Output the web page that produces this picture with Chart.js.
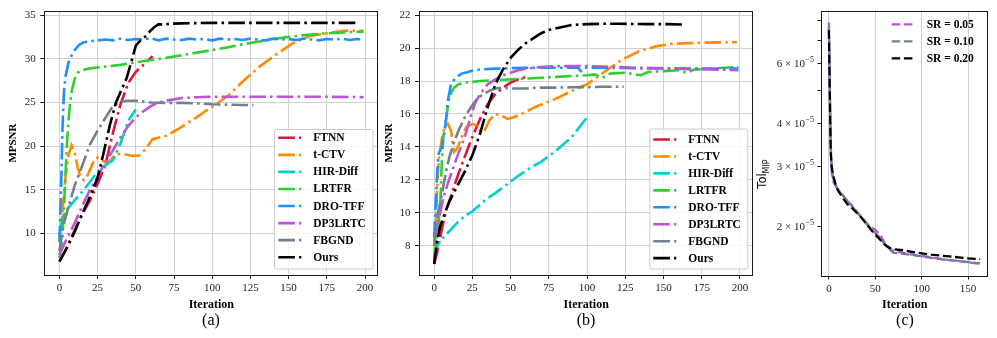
<!DOCTYPE html>
<html>
<head>
<meta charset="utf-8">
<script src="https://cdn.jsdelivr.net/npm/chart.js@4.4.0/dist/chart.umd.min.js"></script>
<style>
  html, body { margin: 0; padding: 0; background: #fff; }
  #wrap { position: relative; width: 997px; height: 338px; overflow: hidden; }
  canvas { position: absolute; top: 0; }
  .cap { position: absolute; top: 311px; line-height: 18px; font-family: "Liberation Serif", serif;
         font-size: 16px; color: #000; transform: translateX(-50%); }
</style>
</head>
<body>
<div id="wrap">
  <canvas id="ca" width="382" height="338" style="left:0"></canvas>
  <canvas id="cb" width="376" height="338" style="left:380px"></canvas>
  <canvas id="cc" width="241" height="338" style="left:756px"></canvas>
  <div class="cap" style="left:211px">(a)</div>
  <div class="cap" style="left:586px">(b)</div>
  <div class="cap" style="left:905px">(c)</div>
</div>
<script>
// values (iteration / MPSNR or Tol)
const METHODS = ["FTNN", "t-CTV", "HIR-Diff", "LRTFR", "DRO-TFF", "DP3LRTC", "FBGND", "Ours"];
const COLORS = ["#dc143c", "#ff8c00", "#00ced1", "#32cd32", "#1e90ff", "#ba55d3", "#708090", "#000000"];

// ---- panel (a)
const A_FTNN_IT = [0, 5, 10, 15, 20, 25, 30, 35, 40, 45, 50, 55, 61];
const A_FTNN = [6.8, 8.5, 10.4, 12.2, 13.8, 15.7, 17.8, 21.5, 24.8, 27.2, 28.5, 29.3, 30.3];
const A_TCTV_IT = [0, 2, 4, 6, 8, 10, 12, 14, 16, 18, 20, 23, 25, 28, 31, 34, 37, 42, 47, 52, 56, 61, 70, 79, 88, 99, 110, 120, 131, 142, 153, 164, 175, 186, 199];
const A_TCTV = [9.3, 12.5, 16.5, 19.0, 20.1, 19.3, 17.5, 16.4, 16.1, 16.5, 17.3, 18.5, 18.7, 18.4, 18.0, 18.5, 19.1, 19.1, 18.9, 18.9, 19.6, 20.8, 21.2, 22.1, 23.1, 24.4, 25.7, 27.4, 29.1, 30.5, 31.8, 32.6, 32.9, 33.2, 33.2];
const A_HIR_IT = [0, 2, 5, 10, 15, 20, 25, 30, 35, 40, 45, 50];
const A_HIR = [9.8, 11.8, 12.8, 13.8, 14.8, 15.9, 17.1, 17.8, 18.4, 20.3, 22.9, 24.2];
const A_LRTFR_IT = [0, 2, 3, 4, 5, 6, 7, 8, 10, 12, 15, 20, 30, 40, 50, 60, 70, 80, 90, 100, 110, 120, 130, 140, 150, 160, 170, 180, 190, 199];
const A_LRTFR = [7.2, 9.5, 13, 17, 20.5, 23, 25, 26.3, 27.7, 28.4, 28.7, 28.9, 29.1, 29.3, 29.6, 29.85, 30.1, 30.4, 30.7, 31.0, 31.3, 31.65, 31.95, 32.25, 32.5, 32.7, 32.85, 32.95, 33.05, 33.1];
const A_DRO_IT = [0, 1, 2, 3, 4, 6, 8, 10, 13, 16, 20, 25, 30, 35, 40, 45, 50, 55, 60, 65, 70, 75, 80, 85, 90, 95, 100, 105, 110, 115, 120, 125, 130, 135, 140, 145, 150, 155, 160, 165, 170, 175, 180, 185, 190, 195, 199];
const A_DRO = [9.0, 14.5, 22.0, 26.3, 28.0, 29.6, 30.4, 31.0, 31.6, 31.9, 32.0, 32.1, 32.2, 32.1, 32.3, 32.15, 32.25, 32.2, 32.35, 32.1, 32.3, 32.2, 32.15, 32.3, 32.2, 32.25, 32.1, 32.3, 32.2, 32.25, 32.15, 32.3, 32.2, 32.1, 32.3, 32.2, 32.25, 32.15, 32.3, 32.2, 32.1, 32.25, 32.2, 32.3, 32.15, 32.25, 32.2];
const A_DP3_IT = [0, 5, 10, 15, 20, 25, 30, 35, 40, 45, 50, 55, 60, 65, 70, 80, 90, 100, 125, 150, 175, 199];
const A_DP3 = [7.6, 9.5, 11.2, 13.2, 15.0, 16.5, 18.2, 19.5, 21.0, 22.3, 23.3, 24.0, 24.6, 25.0, 25.2, 25.5, 25.6, 25.65, 25.65, 25.65, 25.65, 25.6];
const A_FBG_IT = [0, 2, 5, 10, 15, 20, 25, 30, 35, 40, 45, 50, 60, 70, 80, 90, 100, 110, 120, 127];
const A_FBG = [8.0, 10.5, 12.5, 15.5, 17.8, 20.2, 21.8, 23.2, 24.6, 25.1, 25.2, 25.2, 25.0, 24.95, 24.95, 24.9, 24.8, 24.75, 24.7, 24.7];
const A_OURS_IT = [0, 5, 10, 15, 20, 25, 29, 33, 37, 41, 44, 47, 50, 53, 56, 59, 62, 65, 68, 72, 80, 100, 130, 160, 195];
const A_OURS = [6.8, 8.4, 10.2, 12.3, 14.2, 16.4, 19.3, 22.4, 25.0, 26.6, 27.8, 29.6, 31.5, 32.1, 32.5, 33.1, 33.6, 33.95, 33.9, 34.0, 34.05, 34.1, 34.1, 34.1, 34.1];

// ---- panel (b)
const B_FTNN_IT = [0, 2, 5, 8, 12, 16, 20, 25, 30, 35, 40, 45, 50, 55, 62];
const B_FTNN = [6.9, 7.6, 9.0, 10.2, 11.3, 12.4, 13.4, 14.6, 15.7, 16.6, 17.2, 17.6, 17.9, 18.1, 18.3];
const B_TCTV_IT = [0, 1, 2, 3, 5, 7, 9, 11, 13, 15, 18, 21, 25, 28, 31, 33, 36, 40, 44, 48, 52, 57, 68, 79, 90, 100, 106, 112, 123, 134, 145, 155, 167, 178, 190, 198];
const B_TCTV = [7.0, 9.0, 11.5, 13.2, 14.5, 15.3, 15.4, 15.0, 13.7, 13.9, 14.6, 15.2, 15.4, 15.3, 14.9, 15.0, 15.6, 16.0, 15.9, 15.7, 15.8, 16.0, 16.5, 16.9, 17.4, 17.8, 18.2, 18.6, 19.3, 19.8, 20.1, 20.25, 20.3, 20.33, 20.35, 20.35];
const B_HIR_IT = [0, 3, 5, 10, 15, 20, 25, 30, 35, 40, 45, 50, 55, 60, 65, 70, 75, 80, 85, 90, 95, 100];
const B_HIR = [7.3, 8.2, 8.4, 8.9, 9.4, 9.8, 10.1, 10.5, 10.9, 11.2, 11.55, 11.9, 12.25, 12.55, 12.85, 13.1, 13.45, 13.8, 14.2, 14.6, 15.2, 15.8];
const B_LRTFR_IT = [0, 2, 4, 5, 6, 8, 10, 13, 16, 20, 30, 40, 50, 60, 70, 80, 90, 100, 105, 110, 115, 125, 135, 140, 150, 160, 165, 170, 180, 190, 199];
const B_LRTFR = [7.2, 8.5, 10.5, 13.0, 14.6, 15.8, 17.1, 17.6, 17.8, 17.9, 18.0, 18.05, 18.1, 18.15, 18.2, 18.25, 18.3, 18.35, 18.4, 18.2, 18.45, 18.5, 18.35, 18.55, 18.6, 18.65, 18.5, 18.7, 18.75, 18.8, 18.85];
const B_DRO_IT = [0, 1, 2, 3, 5, 7, 9, 11, 14, 18, 22, 26, 30, 40, 50, 60, 70, 80, 90, 94, 96, 98, 110, 130, 150, 170, 190, 199];
const B_DRO = [8.5, 10.5, 12.5, 13.6, 14.0, 15.0, 16.8, 17.8, 18.2, 18.45, 18.55, 18.65, 18.7, 18.75, 18.78, 18.8, 18.8, 18.8, 18.8, 18.8, 18.6, 18.8, 18.8, 18.78, 18.78, 18.76, 18.75, 18.75];
const B_DP3_IT = [0, 3, 6, 9, 12, 15, 18, 21, 24, 27, 30, 35, 40, 45, 50, 55, 60, 70, 80, 90, 100, 110, 120, 130, 140, 150, 160, 170, 180, 190, 199];
const B_DP3 = [8.2, 9.6, 10.9, 11.8, 12.6, 13.4, 14.1, 14.9, 15.9, 16.7, 17.2, 17.8, 18.1, 18.35, 18.5, 18.65, 18.75, 18.85, 18.9, 18.9, 18.9, 18.88, 18.85, 18.8, 18.78, 18.75, 18.73, 18.72, 18.7, 18.68, 18.65];
const B_FBG_IT = [0, 2, 4, 6, 8, 10, 13, 16, 20, 24, 28, 32, 36, 40, 45, 50, 60, 70, 80, 90, 100, 110, 124];
const B_FBG = [8.0, 9.8, 10.6, 11.6, 12.6, 13.4, 14.3, 15.0, 15.8, 16.4, 16.9, 17.2, 17.4, 17.55, 17.6, 17.55, 17.55, 17.6, 17.6, 17.62, 17.63, 17.65, 17.65];
const B_OURS_IT = [0, 2, 4, 7, 10, 15, 20, 25, 30, 35, 40, 45, 50, 55, 60, 65, 70, 75, 80, 90, 100, 110, 120, 130, 140, 150, 162];
const B_OURS = [6.9, 8.3, 9.2, 10.0, 10.7, 11.6, 12.5, 13.5, 14.8, 16.4, 17.8, 18.7, 19.4, 19.9, 20.3, 20.6, 20.9, 21.1, 21.2, 21.4, 21.45, 21.47, 21.47, 21.46, 21.45, 21.45, 21.43];

// ---- panel (c)
const SR_LABELS = ["SR = 0.05", "SR = 0.10", "SR = 0.20"];
const SR_COLORS = ["#ba55d3", "#708090", "#000000"];
const C_IT = [0, 1, 2, 3, 5, 8, 10, 15, 20, 25, 30, 35, 40, 45, 50, 55, 60, 65, 70, 80, 90, 100, 110, 120, 130, 140, 150, 163];
const C_SR05 = [7.9e-5, 5.2e-5, 3.5e-5, 2.9e-5, 2.7e-5, 2.62e-5, 2.56e-5, 2.47e-5, 2.38e-5, 2.31e-5, 2.22e-5, 2.14e-5, 2.06e-5, 2.0e-5, 1.96e-5, 1.9e-5, 1.8e-5, 1.73e-5, 1.7e-5, 1.68e-5, 1.66e-5, 1.645e-5, 1.63e-5, 1.615e-5, 1.6e-5, 1.59e-5, 1.575e-5, 1.56e-5];
const C_SR10 = [7.7e-5, 5.0e-5, 3.4e-5, 2.95e-5, 2.75e-5, 2.62e-5, 2.57e-5, 2.48e-5, 2.38e-5, 2.30e-5, 2.21e-5, 2.13e-5, 2.05e-5, 1.98e-5, 1.92e-5, 1.86e-5, 1.78e-5, 1.72e-5, 1.68e-5, 1.67e-5, 1.655e-5, 1.64e-5, 1.625e-5, 1.61e-5, 1.6e-5, 1.59e-5, 1.58e-5, 1.565e-5];
const C_SR20 = [7.5e-5, 4.8e-5, 3.3e-5, 3.0e-5, 2.8e-5, 2.62e-5, 2.55e-5, 2.43e-5, 2.33e-5, 2.27e-5, 2.2e-5, 2.13e-5, 2.05e-5, 1.97e-5, 1.9e-5, 1.84e-5, 1.78e-5, 1.74e-5, 1.72e-5, 1.71e-5, 1.69e-5, 1.675e-5, 1.66e-5, 1.65e-5, 1.64e-5, 1.63e-5, 1.62e-5, 1.61e-5];

// ticks
const X_TICKS_AB = [0, 25, 50, 75, 100, 125, 150, 175, 200];
const Y_TICKS_A = [10, 15, 20, 25, 30, 35];
const Y_TICKS_B = [8, 10, 12, 14, 16, 18, 20, 22];
const X_TICKS_C = [0, 50, 100, 150];
const Y_TICKS_C = [2e-5, 3e-5, 4e-5, 5e-5, 6e-5, 7e-5, 8e-5];
const Y_LABELED_C = [2, 3, 4, 6];

const SERIF = '"Liberation Serif", "Times New Roman", serif';
const INK = "#1a1a1a";
const DASHDOT = [16.6, 4.2, 2.6, 4.2];
const DASHED = [8.5, 3.7];

const pts = (xs, ys) => xs.map((x, i) => ({ x, y: ys[i] }));

function lineSet(label, color, xs, ys, dash, width, order) {
  return { label, data: pts(xs, ys), borderColor: color, borderWidth: width, borderDash: dash,
           pointRadius: 0, tension: 0, fill: false, order };
}

// box around the plot area, like matplotlib spines
const frame = {
  id: "frame",
  afterDraw(chart) {
    const { ctx, chartArea: a } = chart;
    ctx.save();
    ctx.strokeStyle = INK;
    ctx.lineWidth = 1;
    ctx.strokeRect(Math.round(a.left) + 0.5, Math.round(a.top) + 0.5,
                   Math.round(a.right - a.left) - 1, Math.round(a.bottom - a.top));
    ctx.restore();
  },
};

// legend drawn inside the axes
const boxLegend = {
  id: "boxLegend",
  afterDraw(chart, args, o) {
    if (!o || o.hx === undefined) return;
    const ctx = chart.ctx;
    ctx.save();
    if (o.frame) {
      ctx.beginPath();
      ctx.roundRect(o.frame[0] + 0.5, o.frame[1] + 0.5, o.frame[2], o.frame[3], 2);
      ctx.fillStyle = "rgba(255,255,255,0.8)";
      ctx.fill();
      ctx.strokeStyle = "#cccccc";
      ctx.lineWidth = 1;
      ctx.stroke();
    }
    chart.data.datasets.forEach((ds, i) => {
      const y = o.y0 + i * o.dy;
      ctx.strokeStyle = ds.borderColor;
      ctx.lineWidth = ds.borderWidth;
      ctx.setLineDash(ds.borderDash || []);
      ctx.beginPath();
      ctx.moveTo(o.hx, y);
      ctx.lineTo(o.hx + o.hl, y);
      ctx.stroke();
      ctx.setLineDash([]);
      ctx.fillStyle = "#000";
      ctx.font = `bold 11.5px ${SERIF}`;
      ctx.textBaseline = "middle";
      ctx.textAlign = "left";
      ctx.fillText(ds.label, o.tx, y + 0.5);
    });
    ctx.restore();
  },
};

// rotated "Tol_MIP" label with a subscript
const tolTitle = {
  id: "tolTitle",
  afterDraw(chart, args, o) {
    if (!o || o.x === undefined) return;
    const ctx = chart.ctx;
    ctx.save();
    ctx.translate(o.x, o.y);
    ctx.rotate(-Math.PI / 2);
    ctx.fillStyle = "#000";
    ctx.textBaseline = "middle";
    ctx.font = '11.5px "DejaVu Sans", sans-serif';
    const w1 = ctx.measureText("Tol").width;
    ctx.font = '8px "DejaVu Sans", sans-serif';
    const w2 = ctx.measureText("MIP").width;
    const start = -(w1 + w2) / 2;
    ctx.font = '11.5px "DejaVu Sans", sans-serif';
    ctx.fillText("Tol", start, 0);
    ctx.font = '8px "DejaVu Sans", sans-serif';
    ctx.fillText("MIP", start + w1, 3);
    ctx.restore();
  },
};

// "m × 10^-5" tick labels with a real raised exponent, placed by the y scale
const sciTicks = {
  id: "sciTicks",
  afterDraw(chart, args, o) {
    if (!o || !o.labels) return;
    const ctx = chart.ctx;
    const y = chart.scales.y;
    ctx.save();
    ctx.fillStyle = INK;
    ctx.textBaseline = "middle";
    ctx.textAlign = "left";
    o.labels.forEach((m) => {
      const py = y.getPixelForValue(m * 1e-5);
      ctx.font = `8px ${SERIF}`;
      const we = ctx.measureText("−5").width;
      ctx.font = `11px ${SERIF}`;
      const base = `${m} × 10`;
      const wb = ctx.measureText(base).width;
      const x0 = o.right - we - wb;
      ctx.fillText(base, x0, py + 0.5);
      ctx.font = `8px ${SERIF}`;
      ctx.fillText("−5", x0 + wb + 0.5, py - 4);
    });
    ctx.restore();
  },
};

function fixTicks(list) {
  return (scale) => { scale.ticks = list.map((v) => ({ value: v })); };
}

function axisX(min, max, ticks, height, gridOn) {
  return {
    type: "linear", min, max,
    afterBuildTicks: fixTicks(ticks),
    afterFit: (s) => { s.height = height; },
    grid: { display: true, drawOnChartArea: gridOn, color: "#d0d0d0", lineWidth: 1,
            tickColor: INK, tickLength: 4 },
    border: { display: false },
    ticks: { autoSkip: false, maxRotation: 0, padding: 3, color: INK,
             font: { family: SERIF, size: 11 } },
    title: { display: true, text: "Iteration", color: "#000",
             font: { family: SERIF, size: 12, weight: "bold" }, padding: { top: 0, bottom: 25.5 } },
  };
}

function axisY(min, max, ticks, width, titlePad) {
  return {
    type: "linear", min, max,
    afterBuildTicks: fixTicks(ticks),
    afterFit: (s) => { s.width = width; },
    grid: { display: true, color: "#d0d0d0", lineWidth: 1, tickColor: INK, tickLength: 4 },
    border: { display: false },
    ticks: { autoSkip: false, padding: 4.5, color: INK, font: { family: SERIF, size: 11 } },
    title: { display: true, text: "MPSNR", color: "#000",
             font: { family: SERIF, size: 11, weight: "bold" }, padding: { top: titlePad, bottom: 0 } },
  };
}

function baseOptions(padRight, scales, legendOpts, extra) {
  return {
    responsive: false, animation: false, events: [],
    layout: { padding: { left: 0, top: 9.3, right: padRight, bottom: 0 } },
    scales,
    plugins: Object.assign({ legend: { display: false }, tooltip: { enabled: false },
                             boxLegend: legendOpts }, extra || {}),
  };
}

function methodSets(series) {
  return series.map(([xs, ys], i) =>
    lineSet(METHODS[i], COLORS[i], xs, ys, DASHDOT, 2.6, series.length - i));
}

const SERIES_A = [[A_FTNN_IT, A_FTNN], [A_TCTV_IT, A_TCTV], [A_HIR_IT, A_HIR], [A_LRTFR_IT, A_LRTFR],
                  [A_DRO_IT, A_DRO], [A_DP3_IT, A_DP3], [A_FBG_IT, A_FBG], [A_OURS_IT, A_OURS]];
const SERIES_B = [[B_FTNN_IT, B_FTNN], [B_TCTV_IT, B_TCTV], [B_HIR_IT, B_HIR], [B_LRTFR_IT, B_LRTFR],
                  [B_DRO_IT, B_DRO], [B_DP3_IT, B_DP3], [B_FBG_IT, B_FBG], [B_OURS_IT, B_OURS]];

new Chart(document.getElementById("ca"), {
  type: "line",
  data: { datasets: methodSets(SERIES_A) },
  options: baseOptions(3.7,
    { x: axisX(-9.9, 208.7, X_TICKS_AB, 63, true), y: axisY(5.26, 35.45, Y_TICKS_A, 44.3, 6.7) },
    { frame: [274, 129, 98.5, 139.5], hx: 278.3, hl: 23, tx: 313.3, y0: 137.8, dy: 17.06 }),
  plugins: [frame, boxLegend],
});

new Chart(document.getElementById("cb"), {
  type: "line",
  data: { datasets: methodSets(SERIES_B) },
  options: baseOptions(2.7,
    { x: axisX(-9.9, 208.7, X_TICKS_AB, 63, true), y: axisY(6.235, 22.24, Y_TICKS_B, 39, 2.7) },
    { frame: [269.3, 128.5, 98, 140], hx: 273.3, hl: 23, tx: 308.3, y0: 139.5, dy: 16.95 }),
  plugins: [frame, boxLegend],
});

const SR_SERIES = [C_SR05, C_SR10, C_SR20];
new Chart(document.getElementById("cc"), {
  type: "line",
  data: { datasets: SR_SERIES.map((ys, i) => lineSet(SR_LABELS[i], SR_COLORS[i], C_IT, ys, DASHED, 2.3, 3 - i)) },
  options: baseOptions(8.7, {
    x: axisX(-8.5, 171.8, X_TICKS_C, 62.5, true),
    y: {
      type: "logarithmic", min: 1.443e-5, max: 8.55e-5,
      afterBuildTicks: fixTicks(Y_TICKS_C),
      afterFit: (s) => { s.width = 65; },
      grid: { display: true, drawOnChartArea: false, tickColor: INK, tickLength: 3.5 },
      border: { display: false },
      ticks: { autoSkip: false, padding: 4.2, color: INK, font: { family: SERIF, size: 11 },
               callback: () => "" },
      title: { display: false },
    },
  }, { hx: 135.7, hl: 23, tx: 170.7, y0: 24.3, dy: 17 },
     { tolTitle: { x: 7.5, y: 174 }, sciTicks: { labels: Y_LABELED_C, right: 57.5 } }),
  plugins: [frame, boxLegend, tolTitle, sciTicks],
});
</script>
</body>
</html>
